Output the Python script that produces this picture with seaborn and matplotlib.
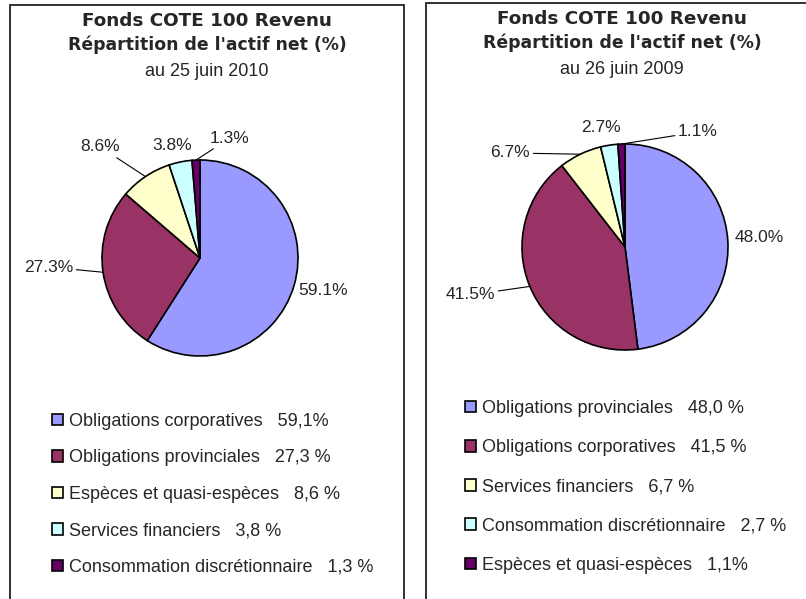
import numpy as np
import matplotlib
matplotlib.use("Agg")
import matplotlib.pyplot as plt
from matplotlib.patches import Rectangle
import seaborn as sns

# ---------------- data ----------------
title_main = "Fonds COTE 100 Revenu"
title_sub = "Répartition de l'actif net (%)"

date_2010 = "au 25 juin 2010"
cats_2010 = ["Obligations corporatives", "Obligations provinciales",
             "Espèces et quasi-espèces", "Services financiers",
             "Consommation discrétionnaire"]
vals_2010 = [59.1, 27.3, 8.6, 3.8, 1.3]
legend_pct_2010 = ["59,1%", "27,3 %", "8,6 %", "3,8 %", "1,3 %"]

date_2009 = "au 26 juin 2009"
cats_2009 = ["Obligations provinciales", "Obligations corporatives",
             "Services financiers", "Consommation discrétionnaire",
             "Espèces et quasi-espèces"]
vals_2009 = [48.0, 41.5, 6.7, 2.7, 1.1]
legend_pct_2009 = ["48,0 %", "41,5 %", "6,7 %", "2,7 %", "1,1%"]

slice_colors = ["#9999FF", "#993366", "#FFFFCC", "#CCFFFF", "#660066"]

# ---------------- style ----------------
sns.set_theme(style="white")
plt.rcParams["font.family"] = ["Liberation Sans", "DejaVu Sans"]

W, H = 806, 599
fig = plt.figure(figsize=(W / 100, H / 100), dpi=100)
fig.patch.set_facecolor("white")


def fx(px):
    return px / W


def fy(py):
    return 1 - py / H


# panel frames
for (x0, y0, x1, y1) in [(10, 5, 404, 610), (426, 3, 815, 610)]:
    fig.patches.append(Rectangle((fx(x0), fy(y1)), fx(x1 - x0), (y1 - y0) / H,
                                 transform=fig.transFigure, fill=False,
                                 edgecolor="#222222", linewidth=1.3))


def draw_panel(cx, cy, r, vals, cats, pcts, date, title_x, title_ys,
               label_pos, leaders, leg_x, leg_y, leg_gap):
    # titles
    fig.text(fx(title_x), fy(title_ys[0]), title_main, ha="center", va="center",
             fontsize=13.2, fontweight="bold", family=["DejaVu Sans"])
    fig.text(fx(title_x), fy(title_ys[1]), title_sub, ha="center", va="center",
             fontsize=12.4, fontweight="bold", family=["DejaVu Sans"])
    fig.text(fx(title_x), fy(title_ys[2]), date, ha="center", va="center",
             fontsize=13)

    ax = fig.add_axes([fx(cx - r), fy(cy + r), fx(2 * r), 2 * r / H])
    wedges, _ = ax.pie(vals, colors=slice_colors, startangle=90,
                       counterclock=False, radius=1,
                       wedgeprops=dict(edgecolor="black", linewidth=1.2))
    ax.set_xlim(-1, 1)
    ax.set_ylim(-1, 1)
    ax.set_aspect("equal")
    ax.axis("off")

    for w, v, (lx, ly, ha), lead in zip(wedges, vals, label_pos, leaders):
        mid = np.deg2rad((w.theta1 + w.theta2) / 2)
        ex, ey = np.cos(mid), np.sin(mid)
        txt = f"{v:.1f}%"
        if lead:
            ax.annotate(txt, xy=(ex, ey), xytext=(lx, ly), ha=ha, va="center",
                        fontsize=12.5, annotation_clip=False,
                        arrowprops=dict(arrowstyle="-", color="black", lw=0.8,
                                        shrinkA=0, shrinkB=0, clip_on=False))
        else:
            ax.text(lx, ly, txt, ha=ha, va="center", fontsize=12.5, clip_on=False)

    labels = [f"{c}   {p}" for c, p in zip(cats, pcts)]
    fig.legend(wedges, labels, loc="upper left",
               bbox_to_anchor=(fx(leg_x), fy(leg_y)), frameon=False,
               fontsize=13, handlelength=0.62, handleheight=0.62,
               handletextpad=0.3, labelspacing=leg_gap, borderpad=0,
               borderaxespad=0)


draw_panel(200, 258, 98, vals_2010, cats_2010, legend_pct_2010, date_2010,
           207, (21, 45, 72),
           [(1.0, -0.33, "left"), (-1.296, -0.092, "right"),
            (-0.816, 1.133, "right"), (-0.286, 1.143, "center"),
            (0.102, 1.224, "left")],
           [False, True, True, False, True],
           52, 413, 1.08)

draw_panel(625, 247, 103, vals_2009, cats_2009, legend_pct_2009, date_2009,
           622, (19, 43, 70),
           [(1.068, 0.097, "left"), (-1.262, -0.466, "right"),
            (-0.922, 0.913, "right"), (-0.233, 1.165, "center"),
            (0.515, 1.117, "left")],
           [False, True, True, False, True],
           465, 400, 1.23)

fig.savefig("out.png", dpi=100)
